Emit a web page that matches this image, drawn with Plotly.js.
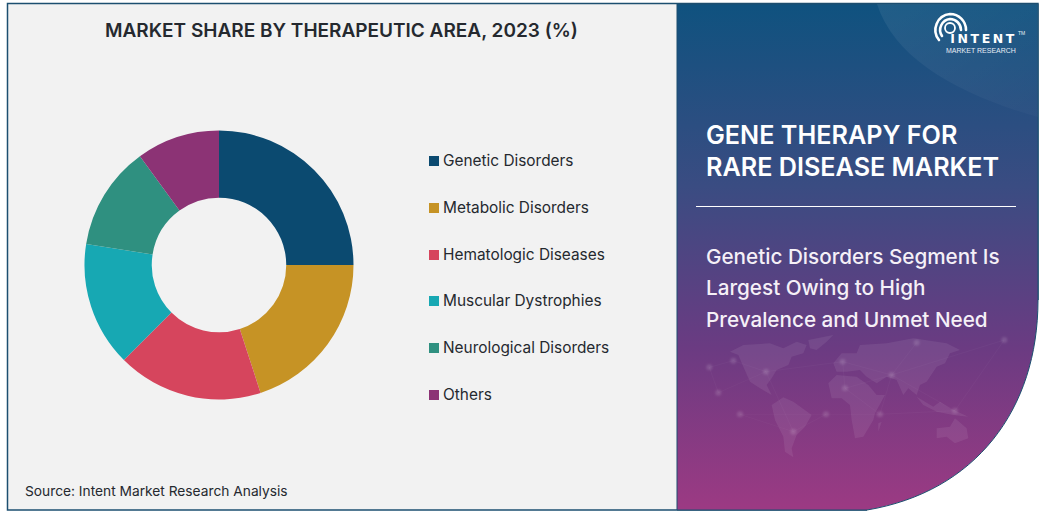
<!DOCTYPE html>
<html>
<head>
<meta charset="utf-8">
<script src="https://cdn.plot.ly/plotly-3.0.1.min.js"></script>
<style>html,body{margin:0;padding:0;background:#fff;overflow:hidden}#chart{width:1043px;height:513px}</style>
</head>
<body>
<div id="chart"></div>
<script>
const categories = ["Genetic Disorders","Metabolic Disorders","Hematologic Diseases","Muscular Dystrophies","Neurological Disorders","Others"];
const shareValues = [25,20,17.5,15,12.5,10];
const sliceColors = ["#0b4a70","#c69325","#d6455d","#17a8b3","#2f9080","#8c3375"];
const chartTitle = "MARKET SHARE BY THERAPEUTIC AREA, 2023 (%)";
const sourceNote = "Source: Intent Market Research Analysis";
const headingLines = ["GENE THERAPY FOR","RARE DISEASE MARKET"];
const bodyLines = ["Genetic Disorders Segment Is","Largest Owing to High","Prevalence and Unmet Need"];

const W = 1043, H = 513;
const px = x => x / W, py = y => 1 - y / H;

const land = [
 "M210,95 L250,75 L330,70 L370,85 L410,65 L440,75 L430,100 L395,110 L385,135 L350,150 L335,175 L320,195 L335,225 L300,205 L270,185 L250,140 L235,105 Z",
 "M445,60 L520,45 L500,65 L470,90 L450,85 Z",
 "M335,255 L370,232 L400,245 L455,285 L435,320 L410,345 L395,385 L400,412 L375,395 L370,350 L345,300 Z",
 "M505,190 L530,165 L590,170 L625,195 L650,225 L675,225 L645,280 L640,300 L610,350 L585,355 L575,300 L570,255 L545,235 L515,235 Z",
 "M520,130 L545,100 L590,100 L600,75 L680,70 L760,55 L860,70 L900,90 L870,100 L855,130 L830,140 L800,185 L780,195 L770,225 L745,205 L730,225 L710,180 L680,170 L650,190 L620,170 L600,150 L560,155 L530,155 Z",
 "M770,230 L820,260 L840,245 L870,265 L925,290 L880,285 L830,275 L790,255 Z",
 "M830,325 L870,320 L885,295 L920,325 L925,355 L885,370 L860,350 L830,355 Z",
 "M655,310 L665,305 L655,335 Z"
];
const nodes = [[175,218],[240,283],[498,283],[400,335],[548,125],[695,165],[885,272],[660,283],[148,142],[318,155],[1033,60],[770,68],[220,122],[555,205]];
const links = [[0,8],[0,9],[1,2],[2,3],[2,7],[4,5],[5,10],[5,11],[5,6],[5,7],[7,6],[9,4],[9,3],[8,12],[12,9],[4,13],[13,7],[13,5],[3,1],[6,10]];
const landSvg = land.map(d => `<path d="${d}" fill="#fff" fill-opacity="0.075"/>`).join("");
const linkSvg = links.map(l => `<line x1="${nodes[l[0]][0]}" y1="${nodes[l[0]][1]}" x2="${nodes[l[1]][0]}" y2="${nodes[l[1]][1]}" stroke="#fff" stroke-opacity="0.09"/>`).join("");
const nodeSvg = nodes.map(n => `<circle cx="${n[0]}" cy="${n[1]}" r="9" fill="#fff" fill-opacity="0.13" filter="url(#b)"/>`).join("");

const panel = "M677,4 L1038,4 L1038,300 C1038,410 975,492 867,510 L677,510 Z";
const bgSvg = `<svg xmlns="http://www.w3.org/2000/svg" width="${W}" height="${H}" viewBox="0 0 ${W} ${H}">
<defs>
<filter id="b" x="-100%" y="-100%" width="300%" height="300%"><feGaussianBlur stdDeviation="3"/></filter>
<linearGradient id="g" x1="0" y1="0" x2="0" y2="1">
<stop offset="0" stop-color="#0f527f"/><stop offset="0.36" stop-color="#3a4c82"/>
<stop offset="0.68" stop-color="#6b3b82"/><stop offset="1" stop-color="#9c3a83"/>
</linearGradient>
<linearGradient id="w" x1="0" y1="0" x2="1" y2="1">
<stop offset="0" stop-color="#fff" stop-opacity="0.07"/><stop offset="1" stop-color="#fff" stop-opacity="0.02"/>
</linearGradient>
</defs>
<rect x="7.5" y="3.5" width="1030.5" height="506.5" fill="#f2f2f2" stroke="#1c4f70" stroke-width="1.5"/>
<rect x="867" y="300" width="177" height="214" fill="#fff"/>
<path d="${panel}" fill="url(#g)" stroke="#1c4f70" stroke-width="1"/>
<path d="M877,4 C895,60 960,95 1038,117 L1038,4 Z" fill="url(#w)"/>
<g transform="translate(660,320) scale(0.3333)">${landSvg}${linkSvg}${nodeSvg}</g>
<path d="M696,206.5 L1016,206.5" stroke="#fff" stroke-width="1"/>
<g fill="none" stroke="#fff" stroke-width="2.6" stroke-linecap="round">
<path d="M939,40 A16,16 0 0 1 950,14 A16,16 0 0 1 966,30"/>
<path d="M942,36 A11,11 0 0 1 950,19 A11,11 0 0 1 961,30"/>
<circle cx="950" cy="28" r="5" stroke-width="1.8"/>
</g>
</svg>`;

function label(text, x, y, size, color, family, weight, anchor) {
  return {text: text, x: px(x), y: py(y), xref: "paper", yref: "paper", showarrow: false,
    xanchor: anchor || "left", yanchor: "middle", borderpad: 0, borderwidth: 0,
    font: {size: size, color: color, family: family, weight: weight || 400}};
}

const BODY = "Inter, 'Open Sans', sans-serif";
const annotations = [
  label(chartTitle, 341, 31, 19, "#25292f", BODY, 600, "center"),
  label(sourceNote, 25, 491, 13.75, "#25292f", BODY, 400)
];
const legendY = [161, 208, 255, 301, 348, 395];
const shapes = [];
categories.forEach((c, i) => {
  annotations.push(label(c, 443, legendY[i] - 0.2, 15.4, "#25292f", BODY, 400));
  shapes.push({type: "rect", xref: "paper", yref: "paper", x0: px(429), x1: px(439),
    y0: py(legendY[i] + 5), y1: py(legendY[i] - 5), fillcolor: sliceColors[i], line: {width: 0}});
});
headingLines.forEach((t, i) => annotations.push(label(t, 706, 135 + i * 32, 25.2, "#ffffff", BODY, 600)));
bodyLines.forEach((t, i) => annotations.push(label(t, 706, 256 + i * 31.5, 20.7, "#f5f0f7", BODY, 500)));
annotations.push(label("INTENT", 958, 39, 12.5, "#ffffff", "'DejaVu Sans'", 700));
annotations.push(label("MARKET RESEARCH", 946, 50, 7, "#e6ecf5", "'Liberation Sans'", 400));
annotations.push(label("TM", 1018, 33, 5, "#e6ecf5", "'Liberation Sans'", 400));

const trace = {
  type: "pie", labels: categories, values: shareValues, hole: 0.5, sort: false,
  direction: "clockwise", rotation: 0, textinfo: "none", hoverinfo: "label+percent",
  marker: {colors: sliceColors, line: {width: 0}},
  domain: {x: [px(84.5), px(353.5)], y: [py(399.5), py(130.5)]}
};

const layout = {
  width: W, height: H, margin: {l: 0, r: 0, t: 0, b: 0},
  paper_bgcolor: "#ffffff", showlegend: false,
  images: [{source: "data:image/svg+xml;charset=utf-8," + encodeURIComponent(bgSvg),
    xref: "paper", yref: "paper", x: 0, y: 1, sizex: 1, sizey: 1,
    sizing: "stretch", xanchor: "left", yanchor: "top", layer: "below"}],
  shapes: shapes, annotations: annotations
};
Plotly.newPlot("chart", [trace], layout, {displayModeBar: false, staticPlot: true}).then(gd => {
  gd.querySelectorAll(".annotation-text").forEach(t => {
    if (t.textContent === "INTENT") t.style.letterSpacing = "2.6px";
  });
});
</script>
</body>
</html>
